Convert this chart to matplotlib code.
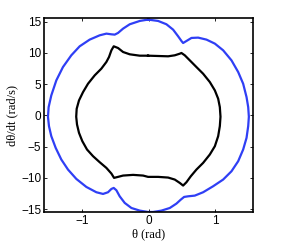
import matplotlib
matplotlib.use('Agg')
import matplotlib.pyplot as plt

# outer orbit (blue), going clockwise from the top
blue_theta = [-0.008, 0.144, 0.269, 0.37, 0.446, 0.496, 0.521, 0.571, 0.647, 0.748, 0.874, 1.0,
              1.125, 1.251, 1.352, 1.427, 1.478, 1.503, 1.513,
              1.503, 1.478, 1.427, 1.352, 1.251, 1.125, 0.974, 0.823, 0.697, 0.597,
              0.536, 0.486, 0.42, 0.32, 0.194, 0.068, -0.008,
              -0.133, -0.259, -0.36, -0.436, -0.486, -0.526, -0.561, -0.612, -0.687, -0.788,
              -0.939, -1.09, -1.216, -1.317, -1.402, -1.468, -1.503, -1.518,
              -1.508, -1.468, -1.392, -1.292, -1.166, -1.04, -0.889, -0.738, -0.637,
              -0.561, -0.511, -0.461, -0.385, -0.284, -0.133, -0.008]
blue_omega = [15.35, 15.13, 14.6, 13.74, 12.67, 11.92, 11.6, 11.92, 12.41, 12.46, 12.14, 11.5,
              10.43, 8.82, 6.95, 5.08, 2.94, 1.34, -0.2,
              -1.71, -3.58, -5.45, -7.32, -8.93, -10.26, -11.33, -12.29, -12.83, -12.94,
              -13.04, -13.47, -14.11, -14.81, -15.23, -15.45, -15.45,
              -15.23, -14.81, -14.0, -12.94, -11.97, -11.6, -11.76, -12.29, -12.56, -12.29,
              -11.44, -10.16, -8.66, -7.05, -5.18, -3.31, -1.71, -0.2,
              1.34, 3.21, 5.62, 7.75, 9.63, 11.07, 12.14, 12.83, 13.1,
              12.99, 12.94, 13.21, 13.9, 14.6, 15.13, 15.35]

# inner orbit (black)
black_theta = [-0.008, 0.144, 0.295, 0.395, 0.471, 0.496, 0.546, 0.622, 0.722, 0.823, 0.924,
               1.0, 1.05, 1.075, 1.085,
               1.075, 1.05, 1.0, 0.924, 0.823, 0.722, 0.637, 0.571, 0.521, 0.471,
               0.395, 0.295, 0.144, -0.008,
               -0.083, -0.234, -0.385, -0.461, -0.521, -0.561, -0.637, -0.738, -0.838,
               -0.929, -1.0, -1.05, -1.08, -1.092,
               -1.085, -1.05, -0.989, -0.914, -0.813, -0.713, -0.637, -0.597,
               -0.561, -0.526, -0.461, -0.385, -0.284, -0.133, -0.008]
black_omega = [9.57, 9.52, 9.47, 9.63, 9.89, 10.0, 9.63, 8.82, 7.75, 6.68, 5.35,
               4.01, 2.68, 1.34, -0.2,
               -1.71, -3.31, -4.92, -6.25, -7.59, -8.66, -9.73, -10.69, -11.22, -10.8,
               -10.26, -9.94, -9.83, -9.83,
               -9.62, -9.51, -9.62, -9.83, -9.99, -9.3, -8.39, -7.48, -6.52,
               -5.45, -4.11, -2.78, -1.44, -0.2,
               1.07, 2.41, 3.74, 5.08, 6.42, 7.49, 8.56, 9.36,
               10.43, 11.07, 10.8, 10.16, 9.79, 9.57, 9.57]

x_ticks = [-1, 0, 1]
y_ticks = [-15, -10, -5, 0, 5, 10, 15]

fig = plt.figure(figsize=(2.81, 2.49), dpi=100)
ax = fig.add_axes([44 / 281, 1 - 212.3 / 249, 209.5 / 281, 194.6 / 249])

ax.plot(blue_theta, blue_omega, color='#2f3ff5', lw=1.6)
ax.plot(black_theta, black_omega, color='black', lw=1.6)

ax.set_xlim(-1.578, 1.583)
ax.set_ylim(-15.5, 15.65)
ax.set_xticks(x_ticks)
ax.set_yticks(y_ticks)
ax.set_xticklabels([str(v).replace('-', '\u2212') for v in x_ticks], family='Liberation Sans', fontsize=8.5)
ax.set_yticklabels([str(v).replace('-', '\u2212') for v in y_ticks], family='Liberation Sans', fontsize=8.5)
ax.tick_params(direction='in', length=2, width=0.6, top=True, right=True, pad=2)
for s in ax.spines.values():
    s.set_linewidth(1.2)

ax.set_xlabel('\u03b8 (rad)', family='Liberation Serif', fontsize=9, labelpad=1)
ax.set_ylabel('d\u03b8/dt (rad/s)', family='Liberation Serif', fontsize=9, labelpad=2)

fig.savefig('out.png', dpi=100)
